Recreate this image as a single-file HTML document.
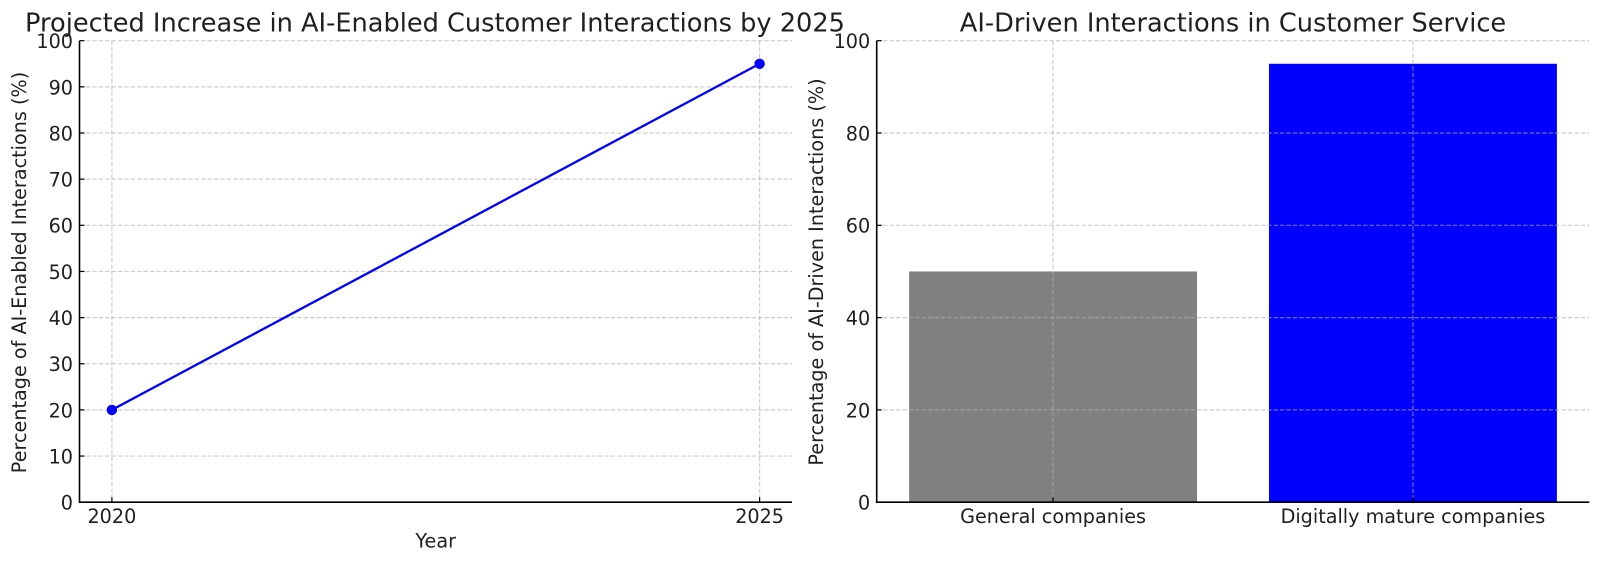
<!DOCTYPE html>
<html lang="en">
<head>
<meta charset="utf-8">
<title>AI Customer Interaction Charts</title>
<style>
  html, body { margin: 0; padding: 0; background: #fff; }
  body { width: 1600px; height: 564px; overflow: hidden; }
  svg { display: block; }
  text { font-family: "DejaVu Sans", "Liberation Sans", sans-serif; fill: #1f1f1f; }
</style>
</head>
<body>
<svg id="figure" xmlns="http://www.w3.org/2000/svg" width="1600" height="564" viewBox="0 0 1600 564">
  <rect width="1600" height="564" fill="#fff"/>
  <g id="left-chart"></g>
  <g id="right-chart"></g>
</svg>
<script>
const lineYears = [2020, 2025];
const lineValues = [20, 95];
const lineYTicks = [0, 10, 20, 30, 40, 50, 60, 70, 80, 90, 100];
const barCategories = ['General companies', 'Digitally mature companies'];
const barValues = [50, 95];
const barColors = ['#808080', '#0000ff'];
const barYTicks = [0, 20, 40, 60, 80, 100];

const NS = 'http://www.w3.org/2000/svg';
const TOP = 40.7, BOTTOM = 502.2;
const LEFT_A = 79.5, RIGHT_A = 792;
const LEFT_B = 876.7, RIGHT_B = 1589.3;
const TICK_FONT = 19.2, TITLE_FONT = 25.64;

function make(parent, tag, props, content) {
  const el = document.createElementNS(NS, tag);
  for (const k in props) el.setAttribute(k, props[k]);
  if (content !== undefined) el.textContent = content;
  parent.appendChild(el);
  return el;
}
function y(v) { return BOTTOM - (v / 100) * (BOTTOM - TOP); }
const GRID = { stroke: '#b0b0b0', 'stroke-opacity': 0.62, 'stroke-width': 1.2, 'stroke-dasharray': '4.4 2' };

function drawYAxis(g, ticks, left, right) {
  ticks.forEach(function (t) {
    const grid = make(g, 'line', Object.assign({ x1: left, x2: right, y1: y(t), y2: y(t) }, GRID));
    
    
  });
}
function drawYLabels(g, ticks, left) {
  ticks.forEach(function (t) {
    const tick = make(g, 'line', { x1: left, x2: left + 5, y1: y(t), y2: y(t), stroke: '#000', 'stroke-width': 1.2 });
    
    
    const label = make(g, 'text', { x: left - 6.5, y: y(t) + 7.4, 'text-anchor': 'end', 'font-size': TICK_FONT }, String(t));
    
    
  });
}
function drawSpines(g, left, right) {
  const ls = make(g, 'line', { x1: left, x2: left, y1: TOP, y2: BOTTOM + 0.8, stroke: '#000', 'stroke-width': 1.6 });
  
  
  const bs = make(g, 'line', { x1: left - 0.8, x2: right, y1: BOTTOM, y2: BOTTOM, stroke: '#000', 'stroke-width': 1.6 });
  
  
}

/* Left chart: line */
(function () {
  const g = document.getElementById('left-chart');
  const x0 = LEFT_A + (RIGHT_A - LEFT_A) * (0.05 / 1.1);
  const x1 = RIGHT_A - (RIGHT_A - LEFT_A) * (0.05 / 1.1);
  const xs = function (yr) {
    return x0 + (yr - lineYears[0]) / (lineYears[lineYears.length - 1] - lineYears[0]) * (x1 - x0);
  };
  drawYAxis(g, lineYTicks, LEFT_A, RIGHT_A);
  lineYears.forEach(function (yr) {
    const grid = make(g, 'line', Object.assign({ x1: xs(yr), x2: xs(yr), y1: TOP, y2: BOTTOM }, GRID));
    
    
  });
  const pts = lineYears.map(function (yr, i) { return xs(yr) + ',' + y(lineValues[i]); }).join(' ');
  const line = make(g, 'polyline', { points: pts, fill: 'none', stroke: '#0000ff', 'stroke-width': 2.3 });
  
  
  lineYears.forEach(function (yr, i) {
    const pt = make(g, 'circle', { cx: xs(yr), cy: y(lineValues[i]), r: 5.2, fill: '#0000ff' });
    
    
  });
  drawYLabels(g, lineYTicks, LEFT_A);
  lineYears.forEach(function (yr) {
    const tick = make(g, 'line', { x1: xs(yr), x2: xs(yr), y1: BOTTOM, y2: BOTTOM - 5, stroke: '#000', 'stroke-width': 1.2 });
    
    
    const label = make(g, 'text', { x: xs(yr), y: 523.2, 'text-anchor': 'middle', 'font-size': TICK_FONT }, String(yr));
    
    
  });
  drawSpines(g, LEFT_A, RIGHT_A);
  const title = make(g, 'text', { x: 435, y: 31.7, 'text-anchor': 'middle', 'font-size': TITLE_FONT }, 'Projected Increase in AI-Enabled Customer Interactions by 2025');
  
  
  const xt = make(g, 'text', { x: 435.7, y: 547.6, 'text-anchor': 'middle', 'font-size': TICK_FONT }, 'Year');
  
  
  const yt = make(g, 'text', { transform: 'translate(26,272.5) rotate(-90)', 'text-anchor': 'middle', 'font-size': TICK_FONT }, 'Percentage of AI-Enabled Interactions (%)');
  
  
})();

/* Right chart: bars */
(function () {
  const g = document.getElementById('right-chart');
  const n = barCategories.length;
  const barW = 0.8;
  const span = (n - 1) + barW + 0.1 * ((n - 1) + barW);
  const unit = (RIGHT_B - LEFT_B) / span;
  const xs = function (i) { return LEFT_B + (i + barW / 2 + 0.05 * ((n - 1) + barW)) * unit; };
  barValues.forEach(function (v, i) {
    const bar = make(g, 'rect', { x: xs(i) - barW * unit / 2, y: y(v), width: barW * unit, height: BOTTOM - y(v), fill: barColors[i] });
    
    
  });
  drawYAxis(g, barYTicks, LEFT_B, RIGHT_B);
  barCategories.forEach(function (c, i) {
    const grid = make(g, 'line', Object.assign({ x1: xs(i), x2: xs(i), y1: TOP, y2: BOTTOM }, GRID));
    
    
  });
  drawYLabels(g, barYTicks, LEFT_B);
  barCategories.forEach(function (c, i) {
    const tick = make(g, 'line', { x1: xs(i), x2: xs(i), y1: BOTTOM, y2: BOTTOM - 5, stroke: '#000', 'stroke-width': 1.2 });
    
    
    const label = make(g, 'text', { x: xs(i), y: 523.2, 'text-anchor': 'middle', 'font-size': TICK_FONT }, c);
    
    
  });
  drawSpines(g, LEFT_B, RIGHT_B);
  const title = make(g, 'text', { x: 1233, y: 31.7, 'text-anchor': 'middle', 'font-size': TITLE_FONT }, 'AI-Driven Interactions in Customer Service');
  
  
  const yt = make(g, 'text', { transform: 'translate(823,272) rotate(-90)', 'text-anchor': 'middle', 'font-size': TICK_FONT }, 'Percentage of AI-Driven Interactions (%)');
  
  
})();
</script>
</body>
</html>
